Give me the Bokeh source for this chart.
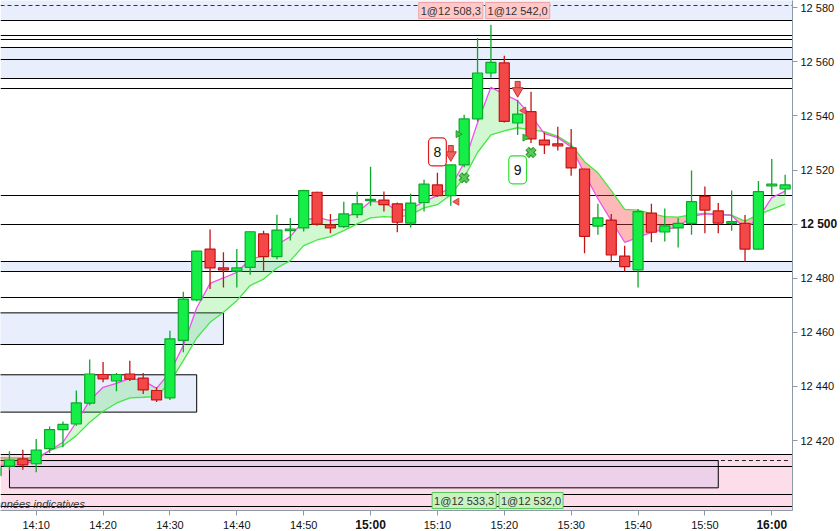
import numpy as np
from bokeh.plotting import figure
from bokeh.models import Range1d, FixedTicker, Label
from bokeh.embed import file_html
from bokeh.resources import INLINE

# ---------------- data ----------------
times = ["14:04", "14:06", "14:08", "14:10", "14:12", "14:14", "14:16", "14:18", "14:20", "14:22",
         "14:24", "14:26", "14:28", "14:30", "14:32", "14:34", "14:36", "14:38", "14:40", "14:42",
         "14:44", "14:46", "14:48", "14:50", "14:52", "14:54", "14:56", "14:58", "15:00", "15:02",
         "15:04", "15:06", "15:08", "15:10", "15:12", "15:14", "15:16", "15:18", "15:20", "15:22",
         "15:24", "15:26", "15:28", "15:30", "15:32", "15:34", "15:36", "15:38", "15:40", "15:42",
         "15:44", "15:46", "15:48", "15:50", "15:52", "15:54", "15:56", "15:58", "16:00", "16:02"]
opens = [12407.0, 12410.5, 12413.2, 12411.4, 12417.0, 12424.0, 12426.1, 12433.8, 12444.4, 12442.0,
         12444.6, 12443.1, 12438.5, 12435.8, 12457.0, 12472.0, 12490.8, 12483.8, 12482.6, 12484.0,
         12496.4, 12488.0, 12497.6, 12498.6, 12511.8, 12499.7, 12499.1, 12503.5, 12508.7, 12508.9,
         12507.5, 12500.4, 12508.0, 12514.5, 12510.5, 12521.9, 12538.9, 12555.9, 12559.6, 12537.4,
         12541.6, 12531.1, 12529.7, 12528.2, 12520.4, 12499.3, 12501.5, 12488.2, 12483.1, 12504.1,
         12497.1, 12498.6, 12500.3, 12510.3, 12504.9, 12500.3, 12500.3, 12490.8, 12514.1, 12513.0]
highs = [12411.0, 12416.0, 12416.6, 12420.6, 12425.2, 12427.0, 12438.5, 12450.0, 12449.0, 12445.0,
         12449.5, 12445.0, 12439.7, 12460.6, 12475.0, 12490.2, 12498.0, 12489.6, 12490.8, 12497.3,
         12497.6, 12503.5, 12502.3, 12512.7, 12512.0, 12503.8, 12508.3, 12512.0, 12521.2, 12512.1,
         12508.0, 12511.2, 12516.4, 12519.0, 12522.0, 12540.5, 12568.8, 12573.7, 12562.3, 12546.0,
         12549.0, 12533.9, 12536.0, 12535.2, 12520.5, 12507.5, 12503.8, 12492.0, 12505.6, 12507.5,
         12505.8, 12502.3, 12519.8, 12513.9, 12507.8, 12512.4, 12503.4, 12516.0, 12524.1, 12518.3]
lows = [12405.8, 12409.0, 12409.2, 12408.3, 12415.4, 12417.5, 12425.5, 12433.0, 12441.5, 12438.2,
        12442.0, 12437.2, 12434.2, 12435.0, 12452.6, 12471.5, 12476.0, 12476.6, 12476.6, 12481.3,
        12482.8, 12487.0, 12494.0, 12497.3, 12499.4, 12496.6, 12498.6, 12502.3, 12506.8, 12504.7,
        12497.0, 12498.8, 12504.7, 12510.0, 12506.8, 12521.0, 12538.0, 12554.2, 12537.6, 12533.0,
        12530.0, 12525.9, 12527.2, 12517.9, 12489.2, 12496.1, 12485.9, 12482.5, 12476.6, 12493.3,
        12493.6, 12491.4, 12496.1, 12496.6, 12496.6, 12497.6, 12486.1, 12490.5, 12510.9, 12510.5]
closes = [12410.0, 12412.8, 12411.0, 12416.5, 12424.0, 12426.0, 12433.9, 12444.6, 12442.8, 12444.4,
          12442.7, 12438.7, 12435.0, 12457.6, 12472.3, 12490.0, 12483.8, 12483.1, 12483.8, 12497.2,
          12488.0, 12497.8, 12498.2, 12512.4, 12500.0, 12498.6, 12503.8, 12507.5, 12509.2, 12507.2,
          12500.7, 12507.8, 12514.8, 12510.5, 12521.9, 12538.9, 12555.9, 12559.8, 12538.0, 12540.7,
          12531.5, 12529.3, 12528.9, 12520.8, 12495.5, 12502.3, 12488.6, 12484.3, 12504.6, 12497.0,
          12499.4, 12500.3, 12508.3, 12505.2, 12500.4, 12500.9, 12490.8, 12512.0, 12514.8, 12514.5]
fast_ema = [12410.75, 12411.0, 12411.0, 12412.85, 12416.3, 12419.36, 12426.75, 12434.77, 12439.68, 12441.16,
            12443.0, 12442.16, 12439.3, 12445.23, 12455.1, 12469.0, 12478.1, 12480.1, 12482.2, 12486.9,
            12488.4, 12492.4, 12495.4, 12501.3, 12502.5, 12501.3, 12502.3, 12504.35, 12508.4, 12508.05,
            12505.0, 12505.6, 12508.4, 12510.5, 12513.85, 12522.7, 12537.5, 12550.6, 12548.1, 12545.6,
            12540.1, 12533.5, 12532.0, 12528.5, 12518.65, 12509.4, 12501.3, 12493.3, 12495.1, 12497.0,
            12498.2, 12498.8, 12502.8, 12503.8, 12503.5, 12503.3, 12498.3, 12502.2, 12509.8, 12512.2]
slow_ema = [12413.7, 12413.6, 12413.6, 12413.6, 12416.3, 12418.1, 12421.8, 12426.75, 12430.8, 12433.8,
            12435.8, 12436.0, 12436.25, 12441.5, 12449.55, 12457.9, 12463.7, 12467.4, 12471.7, 12477.3,
            12479.7, 12483.8, 12486.5, 12492.05, 12494.15, 12495.4, 12497.6, 12500.1, 12502.3, 12502.8,
            12502.5, 12503.5, 12506.0, 12507.2, 12510.9, 12517.3, 12526.5, 12533.0, 12534.5, 12535.65,
            12534.9, 12534.2, 12532.5, 12529.4, 12523.1, 12519.0, 12512.4, 12505.5, 12505.2, 12503.9,
            12502.8, 12502.6, 12503.5, 12504.1, 12503.7, 12503.3, 12501.1, 12503.5, 12505.5, 12507.4]

x_tick_labels = ["14:10", "14:20", "14:30", "14:40", "14:50", "15:00",
                 "15:10", "15:20", "15:30", "15:40", "15:50", "16:00"]
bold_x_labels = ["15:00", "16:00"]
y_ticks = [12420, 12440, 12460, 12480, 12500, 12520, 12540, 12560, 12580]
bold_y_labels = [12500]

level_lines = [12575.3, 12569.8, 12568.2, 12565.2, 12560.8, 12553.8, 12550.0, 12510.6,
               12499.8, 12486.2, 12482.5, 12472.8, 12414.7, 12410.3, 12399.9, 12395.7]
top_dashed_level = 12580.85
band_tops = [12600.0, 12565.2, 12486.2]
band_bottoms = [12575.3, 12553.8, 12482.5]
zone_tops = [12467.2, 12444.3]
zone_bottoms = [12455.5, 12430.5]
zone_ends = ["14:38", "14:34"]
pink_band = (12414.7, 12380.0)
purple_zone = (12412.6, 12402.5, "14:06", "15:52")
projection_level = 12412.6
projection_end = "16:02"

sell_signal_times = ["15:12", "15:22"]
sell_signal_prices = [12526.5, 12550.2]
buy_signal_times = ["15:14", "15:24"]
buy_signal_prices = [12517.1, 12526.5]
count_labels = ["8", "9"]
count_times = ["15:10", "15:22"]
count_prices = [12526.7, 12520.1]
count_colors = ["#E02020", "#33DD33"]

sell_times = ["15:12", "15:22"]
sell_prices = [12508.3, 12542.0]
buy_times = ["15:14", "15:24"]
buy_prices = [12533.3, 12532.0]
trade_qty = 1


def tmin(s):
    hh, mm = s.split(":")
    return (int(hh) - 14) * 60 + int(mm)


def fmt_price(v):
    return f"{v:,.1f}".replace(",", " ").replace(".", ",")


x = np.array([tmin(t) for t in times], dtype=float)
o = np.array(opens)
h = np.array(highs)
l = np.array(lows)
c = np.array(closes)
fe = np.array(fast_ema)
se = np.array(slow_ema)

# ---------------- figure ----------------
FW, FH = 792, 510
X0, X1 = 4.661, 123.10
Y0, Y1 = 12394.12, 12582.70
ppx = (Y1 - Y0) / FH   # price per pixel
mpx = (X1 - X0) / FW   # minutes per pixel

p = figure(frame_width=FW, frame_height=FH, x_range=Range1d(X0, X1), y_range=Range1d(Y0, Y1),
           output_backend="svg", toolbar_location=None, y_axis_location="right",
           min_border_left=0, min_border_top=0, min_border_right=0, min_border_bottom=0)
p.outline_line_color = None
p.xgrid.visible = False
p.ygrid.visible = False
p.background_fill_color = "white"
p.border_fill_color = "white"

axis_col = "#8C9AA8"
for ax in (p.xaxis[0], p.yaxis[0]):
    ax.axis_line_color = axis_col
    ax.major_tick_line_color = axis_col
    ax.minor_tick_line_color = None
    ax.major_tick_in = 0
    ax.major_tick_out = 5
    ax.major_label_standoff = 3
    ax.major_label_text_font = "Liberation Sans"
    ax.major_label_text_font_size = "11px"
    ax.major_label_text_color = "#111111"

p.yaxis.ticker = FixedTicker(ticks=y_ticks)
p.yaxis.major_label_overrides = {v: ("" if v in bold_y_labels else f"{v:,}".replace(",", " ")) for v in y_ticks}
p.xaxis.ticker = FixedTicker(ticks=[tmin(t) for t in x_tick_labels])
p.xaxis.major_label_overrides = {tmin(t): ("" if t in bold_x_labels else t) for t in x_tick_labels}

# ---------------- levels and zones ----------------
blue = "#E8EEFC"
p.hstrip(y0=band_bottoms, y1=band_tops, fill_color=blue, line_color=None)
p.quad(left=[X0 - 20] * len(zone_tops), right=[tmin(t) for t in zone_ends], top=zone_tops,
       bottom=zone_bottoms, fill_color=blue, line_color="black", line_width=1)
p.hstrip(y0=[pink_band[1]], y1=[pink_band[0]], fill_color="#FDDDEA", line_color=None)
p.quad(left=[tmin(purple_zone[2])], right=[tmin(purple_zone[3])], top=[purple_zone[0]],
       bottom=[purple_zone[1]], fill_color="#EDD0EA", line_color="black", line_width=1)
p.hspan(y=level_lines, line_color="black", line_width=1)
p.segment(x0=[X0 - 20], y0=[projection_level], x1=[tmin(purple_zone[3])], y1=[projection_level],
          line_color="black", line_width=1)
p.segment(x0=[tmin(purple_zone[3]) + 0.4], y0=[projection_level], x1=[tmin(projection_end) + 0.5],
          y1=[projection_level], line_color="#222222", line_width=1, line_dash="4 3")
p.hspan(y=[top_dashed_level], line_color="#333333", line_width=1, line_dash="4 3")

# ---------------- EMA ribbon ----------------
XX, YF, YS = [], [], []
for i in range(len(x)):
    XX.append(x[i]); YF.append(fe[i]); YS.append(se[i])
    if i < len(x) - 1:
        d0 = fe[i] - se[i]
        d1 = fe[i + 1] - se[i + 1]
        if d0 * d1 < 0:
            t = d0 / (d0 - d1)
            xc = x[i] + t * (x[i + 1] - x[i])
            yc = fe[i] + t * (fe[i + 1] - fe[i])
            XX.append(xc); YF.append(yc); YS.append(yc)
XX = np.array(XX); YF = np.array(YF); YS = np.array(YS)
p.varea(x=XX, y1=YS, y2=np.maximum(YF, YS), fill_color="#33DD33", fill_alpha=0.22)
p.varea(x=XX, y1=YS, y2=np.minimum(YF, YS), fill_color="#FF4444", fill_alpha=0.38)
p.line(x, se, line_color="#44E844", line_width=1.3)
p.line(x, fe, line_color="#F050F0", line_width=1.3)

# ---------------- candles ----------------
up = c >= o
g_fill, g_edge = "#14EE46", "#0CA82C"
r_fill, r_edge = "#F44848", "#C41414"
body_top = np.maximum(o, c)
body_bot = np.minimum(o, c)
small = (body_top - body_bot) < 0.5
body_top = np.where(small, (body_top + body_bot) / 2 + 0.25, body_top)
body_bot = np.where(small, body_top - 0.5, body_bot)
p.segment(x0=x[up], y0=h[up], x1=x[up], y1=l[up], line_color=g_edge, line_width=1.3)
p.segment(x0=x[~up], y0=h[~up], x1=x[~up], y1=l[~up], line_color=r_edge, line_width=1.3)
p.vbar(x=x[up], width=1.5, top=body_top[up], bottom=body_bot[up], fill_color=g_fill,
       line_color=g_edge, line_width=1.2)
p.vbar(x=x[~up], width=1.5, top=body_top[~up], bottom=body_bot[~up], fill_color=r_fill,
       line_color=r_edge, line_width=1.2)

# ---------------- signals ----------------
sx = [tmin(t) for t in sell_signal_times]
p.rect(x=sx, y=[v + 3.5 * ppx for v in sell_signal_prices], width=5, height=7,
       width_units="screen", height_units="screen", fill_color="#EE6262", line_color="#C83030")
p.scatter(x=sx, y=[v - 2.5 * ppx for v in sell_signal_prices], marker="inverted_triangle", size=11,
          fill_color="#EE6262", line_color="#C83030")
bx = [tmin(t) for t in buy_signal_times]
p.scatter(x=bx, y=buy_signal_prices, marker="x", size=11, line_width=5, line_color="#2E9A2E")
p.scatter(x=bx, y=buy_signal_prices, marker="x", size=10, line_width=2.6, line_color="#5CC85C")

# trade execution triangles
p.scatter(x=[tmin(t) + 0.9 for t in sell_times], y=sell_prices, marker="triangle", size=7,
          angle=np.pi / 2, fill_color="#F06060", line_color="#D04040")
p.scatter(x=[tmin(t) - 0.9 for t in buy_times], y=buy_prices, marker="triangle", size=7,
          angle=-np.pi / 2, fill_color="#3CC83C", line_color="#2E9A2E")

for txt, t, v, col in zip(count_labels, count_times, count_prices, count_colors):
    p.add_layout(Label(x=tmin(t), y=v, text=txt, text_align="center", text_baseline="middle",
                       text_font="Liberation Sans", text_font_size="14px", text_color="#111111",
                       background_fill_color="white", border_line_color=col, border_line_width=1.2,
                       padding={"left": 5, "right": 5, "top": 9, "bottom": 9}, border_radius=4))

for t, v in zip(sell_times, sell_prices):
    p.add_layout(Label(x=tmin(t), y=Y1, y_offset=-2, text=f"{trade_qty}@{fmt_price(v)}",
                       text_align="center", text_baseline="top", text_font="Liberation Sans",
                       text_font_size="11px", text_color="#333333",
                       background_fill_color="#FFC9C9", border_line_color="#F0A4A4", padding=2))
for t, v in zip(buy_times, buy_prices):
    p.add_layout(Label(x=tmin(t), y=Y0, y_offset=2, text=f"{trade_qty}@{fmt_price(v)}",
                       text_align="center", text_baseline="bottom", text_font="Liberation Sans",
                       text_font_size="11px", text_color="#333333",
                       background_fill_color="#C8F3C0", border_line_color="#5CC85C", padding=2))

p.add_layout(Label(x=X0, y=Y0, x_offset=-14, y_offset=1, text="Données indicatives",
                   text_align="left", text_baseline="bottom", text_font="Liberation Sans",
                   text_font_size="11px", text_font_style="italic", text_color="#333333"))

# bold tick labels, placed in the axis side panels
for t in bold_x_labels:
    p.add_layout(Label(x=tmin(t), y=Y0 - 14 * ppx, text=t, text_align="center",
                       text_baseline="middle", text_font="Liberation Sans", text_font_size="12px",
                       text_font_style="bold", text_color="#111111"), "below")
for v in bold_y_labels:
    p.add_layout(Label(x=X1 + 8 * mpx, y=v, text=f"{v:,}".replace(",", " "), text_align="left",
                       text_baseline="middle", text_font="Liberation Sans", text_font_size="12px",
                       text_font_style="bold", text_color="#111111"), "right")

open("out.html", "w").write(file_html(p, INLINE))
